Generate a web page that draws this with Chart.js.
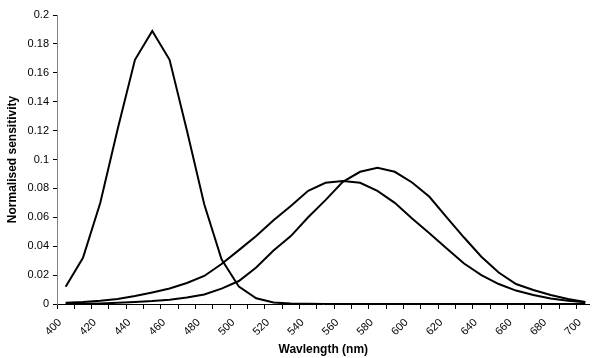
<!DOCTYPE html>
<html>
<head>
<meta charset="utf-8">
<script src="https://cdn.jsdelivr.net/npm/chart.js@4/dist/chart.umd.min.js"></script>
<style>
  body { margin: 0; background: #fff; }
  canvas { display: block; }
</style>
</head>
<body>
<canvas id="myChart" width="593" height="358"></canvas>
<script>
// wavelengths (nm) of each sample
const wavelengths = [405, 415, 425, 435, 445, 455, 465, 475, 485, 495, 505, 515, 525, 535, 545, 555,
    565, 575, 585, 595, 605, 615, 625, 635, 645, 655, 665, 675, 685, 695, 705];

// short, medium and long cone sensitivities
const sCone = [0.012, 0.032, 0.070, 0.121, 0.169, 0.189, 0.169, 0.120, 0.069, 0.031, 0.012, 0.004, 0.001, 0.0003, 0.0001, 0,
    0, 0, 0, 0, 0, 0, 0, 0, 0, 0, 0, 0, 0, 0, 0];
const mCone = [0.0008, 0.0014, 0.0023, 0.0035, 0.0055, 0.008, 0.0107, 0.0145, 0.0194, 0.0277, 0.0373, 0.047, 0.058, 0.0678, 0.0783, 0.0839,
    0.0852, 0.0839, 0.0783, 0.070, 0.0592, 0.049, 0.0384, 0.028, 0.020, 0.0138, 0.0093, 0.0062, 0.0038, 0.0023, 0.0012];
const lCone = [0.0001, 0.0002, 0.0004, 0.0008, 0.0013, 0.002, 0.003, 0.0045, 0.0066, 0.0106, 0.0159, 0.0252, 0.037, 0.047, 0.060, 0.0719,
    0.0845, 0.0915, 0.0942, 0.0915, 0.0841, 0.0742, 0.060, 0.046, 0.0327, 0.0218, 0.0138, 0.0097, 0.0062, 0.0035, 0.0014];

const xTitle = 'Wavlength (nm)';
const yTitle = 'Normalised sensitivity';

const toPoints = (vals) => wavelengths.map((w, i) => ({ x: w, y: vals[i] }));

const lineStyle = {
    borderColor: '#000',
    borderWidth: 2,
    pointRadius: 0,
    tension: 0,
    fill: false
};

Chart.defaults.font.family = 'Arial, "Liberation Sans", Helvetica, sans-serif';
Chart.defaults.color = '#000';

const ctx = document.getElementById('myChart').getContext('2d');
new Chart(ctx, {
    type: 'line',
    data: {
        datasets: [
            { label: 'S', data: toPoints(sCone), ...lineStyle },
            { label: 'M', data: toPoints(mCone), ...lineStyle },
            { label: 'L', data: toPoints(lCone), ...lineStyle }
        ]
    },
    options: {
        responsive: false,
        animation: false,
        layout: { padding: { top: 15, right: 1, left: 0, bottom: 0 } },
        plugins: {
            legend: { display: false },
            tooltip: { enabled: false }
        },
        scales: {
            x: {
                type: 'linear',
                min: 400,
                max: 707.5,
                border: { color: '#000', width: 1 },
                grid: { drawOnChartArea: false, drawTicks: true, tickLength: 5, color: '#000' },
                ticks: {
                    stepSize: 10,
                    includeBounds: false,
                    autoSkip: false,
                    minRotation: 45,
                    maxRotation: 45,
                    padding: 7,
                    labelOffset: 3,
                    font: { size: 11 },
                    callback: (v) => (v % 20 === 0 ? String(v) : '')
                },
                title: {
                    display: true,
                    text: xTitle,
                    font: { size: 12, weight: 'bold' },
                    padding: { top: 0, bottom: 1 }
                },
                afterFit: (scale) => { scale.height = 54; }
            },
            y: {
                min: 0,
                max: 0.2,
                border: { color: '#808080', width: 1 },
                grid: { drawOnChartArea: false, drawTicks: true, tickLength: 4, color: '#000' },
                ticks: {
                    stepSize: 0.02,
                    padding: 4,
                    font: { size: 11 },
                    callback: (v) => String(+v.toFixed(2))
                },
                title: {
                    display: true,
                    text: yTitle,
                    font: { size: 12, weight: 'bold' },
                    padding: { top: 5, bottom: 0 }
                },
                afterFit: (scale) => { scale.width = 57; }
            }
        }
    }
});
</script>
</body>
</html>
